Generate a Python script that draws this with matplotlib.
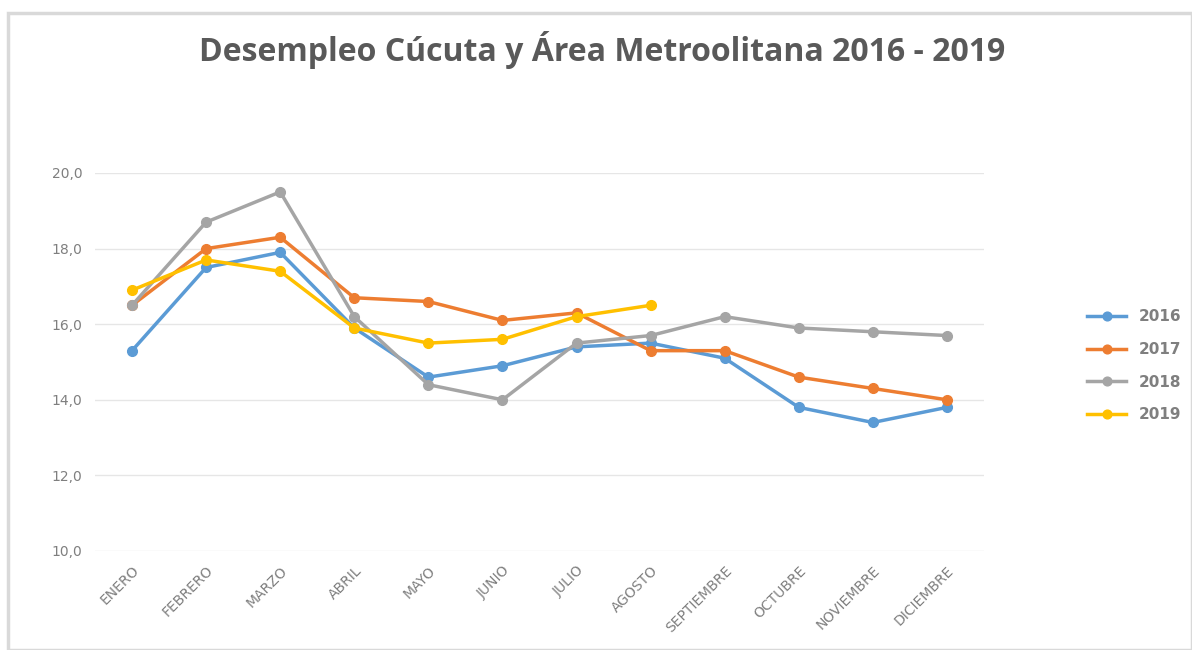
import matplotlib.pyplot as plt
from matplotlib.patches import Rectangle

meses = ["ENERO", "FEBRERO", "MARZO", "ABRIL", "MAYO", "JUNIO", "JULIO",
         "AGOSTO", "SEPTIEMBRE", "OCTUBRE", "NOVIEMBRE", "DICIEMBRE"]

d2016 = [15.3, 17.5, 17.9, 15.9, 14.6, 14.9, 15.4, 15.5, 15.1, 13.8, 13.4, 13.8]
d2017 = [16.5, 18.0, 18.3, 16.7, 16.6, 16.1, 16.3, 15.3, 15.3, 14.6, 14.3, 14.0]
d2018 = [16.5, 18.7, 19.5, 16.2, 14.4, 14.0, 15.5, 15.7, 16.2, 15.9, 15.8, 15.7]
d2019 = [16.9, 17.7, 17.4, 15.9, 15.5, 15.6, 16.2, 16.5]

series = [("2016", d2016, "#5B9BD5"), ("2017", d2017, "#ED7D31"),
          ("2018", d2018, "#A5A5A5"), ("2019", d2019, "#FFC000")]

fig = plt.figure(figsize=(11.92, 6.5), dpi=100)
ax = fig.add_axes([95 / 1192, 1 - 551 / 650, (984 - 95) / 1192, (551 - 173) / 650])

# marco del gráfico
fig.patches.append(Rectangle((8 / 1192, 0), 1 - 8 / 1192, 1 - 13 / 650, transform=fig.transFigure,
                             fill=False, edgecolor="#D9D9D9", linewidth=2.5))

for nombre, datos, color in series:
    ax.plot(range(len(datos)), datos, color=color, linewidth=2.5, marker="o",
            markersize=7, label=nombre)

ax.set_ylim(10, 20)
ax.set_xlim(-0.5, 11.5)
ax.set_yticks([10, 12, 14, 16, 18, 20])
ax.set_yticklabels(["10,0", "12,0", "14,0", "16,0", "18,0", "20,0"])
ax.set_xticks(range(12))
ax.set_xticklabels(meses, rotation=45, ha="right", rotation_mode="anchor")
ax.tick_params(colors="#7F7F7F", labelsize=10, length=0, pad=9)
ax.grid(axis="y", color="#E6E6E6", linewidth=1)
ax.set_axisbelow(True)
for s in ax.spines.values():
    s.set_visible(False)

leg = ax.legend(loc="center left", bbox_to_anchor=(1.1, 0.49), frameon=False,
                labelspacing=1.15, handlelength=2.6, fontsize=11, markerscale=0.9)
for t in leg.get_texts():
    t.set_color("#7F7F7F")
    t.set_fontweight("bold")

fig.text(0.505, 1 - 50 / 650, "Desempleo Cúcuta y Área Metroolitana 2016 - 2019",
         ha="center", va="center", fontsize=23, fontweight="bold", color="#595959",
         family="Open Sans")

fig.savefig("out.png", dpi=100)
